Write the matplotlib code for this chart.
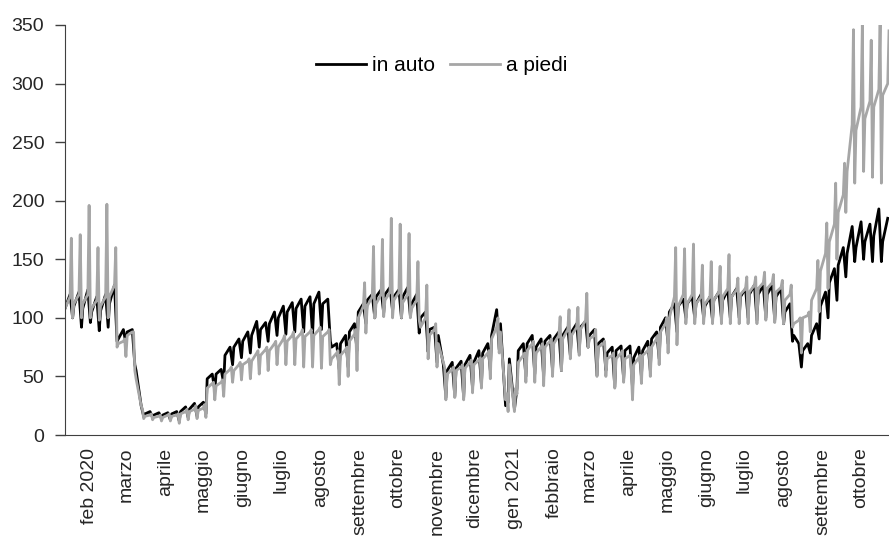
import matplotlib

matplotlib.use("Agg")
import matplotlib.pyplot as plt
import numpy as np
import pandas as pd

plt.rcParams["font.family"] = ["Liberation Sans", "DejaVu Sans"]

# settimane a partire da lunedi 13 gennaio 2020; ultimo giorno disponibile: 23 ottobre 2021
START = pd.Timestamp("2020-01-13")
END = pd.Timestamp("2021-10-23")

# in auto: livello feriale (lun), picco (ven), minimo (dom)
auto_base = [108, 110, 108, 105, 106, 112, 82, 88, 55, 18,
             17, 17, 18, 20, 22, 24, 48, 52, 68, 75,
             80, 85, 90, 95, 100, 105, 108, 110, 112, 112,
             75, 78, 88, 105, 115, 118, 120, 118, 118, 112,
             100, 90, 85, 55, 57, 60, 62, 70, 85, 95,
             65, 72, 78, 75, 80, 82, 85, 88, 92, 85,
             78, 70, 72, 72, 66, 72, 82, 92, 105, 110,
             112, 112, 110, 115, 115, 118, 118, 120, 120, 120,
             118, 105, 85, 72, 85, 110, 130, 145, 155, 160,
             165, 170, 165]
auto_peak = [120, 122, 124, 118, 120, 128, 90, 90, 25, 20,
             19, 19, 20, 24, 27, 28, 52, 56, 75, 82,
             88, 97, 96, 105, 110, 113, 116, 118, 122, 116,
             78, 85, 95, 112, 120, 124, 126, 124, 126, 120,
             105, 92, 60, 62, 63, 68, 72, 78, 107, 25,
             22, 78, 85, 82, 85, 88, 92, 95, 97, 90,
             82, 75, 76, 76, 75, 80, 88, 100, 112, 116,
             118, 120, 118, 122, 124, 125, 125, 128, 128, 128,
             125, 112, 78, 78, 95, 122, 142, 160, 178, 182,
             180, 193, 185]
auto_low = [100, 92, 96, 89, 92, 80, 78, 60, 16, 15,
            14, 13, 12, 15, 16, 18, 38, 44, 60, 66,
            70, 75, 80, 85, 86, 88, 88, 86, 90, 80,
            56, 58, 72, 95, 100, 104, 106, 100, 102, 87,
            71, 62, 32, 33, 32, 40, 43, 55, 73, 28,
            40, 50, 52, 50, 55, 55, 68, 70, 75, 51,
            55, 41, 48, 40, 50, 55, 65, 78, 88, 100,
            100, 100, 98, 100, 100, 100, 100, 98, 100, 98,
            95, 80, 58, 70, 82, 100, 115, 135, 148, 150,
            148, 148, 150]

# a piedi: lunedi, venerdi, picco (sab), minimo (dom)
piedi_base = [108, 112, 112, 108, 110, 118, 78, 85, 48, 16,
              15, 15, 16, 18, 20, 21, 40, 42, 52, 55,
              60, 63, 68, 72, 75, 80, 82, 84, 85, 84,
              65, 68, 80, 100, 110, 112, 115, 115, 113, 108,
              92, 85, 78, 52, 55, 57, 60, 65, 82, 88,
              60, 62, 72, 70, 75, 78, 82, 85, 90, 82,
              75, 65, 65, 65, 60, 68, 75, 88, 100, 110,
              112, 112, 112, 115, 118, 118, 120, 122, 125, 125,
              122, 115, 95, 100, 115, 140, 165, 190, 225, 260,
              270, 280, 290]
piedi_ven = [118, 120, 120, 115, 118, 128, 80, 88, 25, 17,
             16, 17, 17, 20, 22, 23, 44, 45, 56, 60,
             63, 70, 73, 78, 82, 85, 87, 88, 90, 88,
             70, 73, 86, 110, 118, 120, 122, 122, 120, 115,
             100, 90, 62, 56, 58, 62, 64, 70, 92, 30,
             20, 68, 78, 75, 80, 85, 90, 92, 98, 85,
             78, 68, 70, 68, 66, 72, 82, 95, 118, 120,
             120, 118, 118, 122, 125, 124, 125, 128, 130, 130,
             126, 120, 98, 102, 125, 155, 180, 205, 265, 280,
             285, 295, 300]
piedi_peak = [168, 171, 196, 160, 197, 160, 82, 88, 22, 18,
              17, 18, 18, 22, 25, 26, 45, 47, 58, 62,
              65, 72, 75, 80, 85, 88, 90, 90, 92, 90,
              72, 75, 90, 130, 161, 167, 185, 180, 172, 148,
              128, 95, 58, 58, 60, 64, 66, 72, 100, 35,
              40, 70, 80, 78, 82, 101, 107, 109, 121, 90,
              80, 70, 72, 55, 68, 75, 85, 100, 160, 159,
              163, 145, 148, 144, 154, 134, 135, 135, 139, 137,
              132, 128, 100, 105, 149, 181, 215, 232, 346, 350,
              337, 350, 345]
piedi_low = [100, 100, 100, 98, 100, 75, 67, 55, 14, 13,
             12, 12, 10, 13, 14, 15, 30, 33, 45, 47,
             48, 52, 55, 60, 60, 60, 58, 58, 57, 60,
             43, 50, 55, 87, 100, 101, 100, 100, 100, 98,
             65, 58, 30, 32, 30, 36, 40, 48, 70, 20,
             35, 45, 45, 42, 50, 55, 65, 68, 75, 50,
             50, 40, 45, 30, 44, 50, 60, 70, 77, 95,
             95, 95, 95, 95, 95, 95, 95, 95, 98, 96,
             95, 92, 70, 88, 105, 125, 150, 190, 215, 225,
             220, 215, 215]

mesi = ["feb 2020", "marzo", "aprile", "maggio", "giugno", "luglio", "agosto",
        "settembre", "ottobre", "novembre", "dicembre", "gen 2021", "febbraio",
        "marzo", "aprile", "maggio", "giugno", "luglio", "agosto", "settembre",
        "ottobre"]


def weekly_points(cols, offsets):
    days, vals = [], []
    for k in range(len(cols[0])):
        for off, c in zip(offsets, cols):
            days.append(7 * k + off)
            vals.append(c[k])
    s = pd.Series(vals, index=START + pd.to_timedelta(days, unit="D"))
    return s[s.index <= END]


auto = weekly_points([auto_base, auto_peak, auto_low], [0, 4, 6])
piedi = weekly_points([piedi_base, piedi_ven, piedi_peak, piedi_low], [0, 4, 5, 6])

fig = plt.figure(figsize=(8.89, 5.42), dpi=100)
ax = fig.add_axes([0.0731, 0.1974, 0.9269, 0.7565])

ax.plot(auto.index, auto.values, color="black", lw=2.0, label="in auto")
ax.plot(piedi.index, piedi.values, color="#A6A6A6", lw=2.0, label="a piedi")

ax.set_xlim(START, END)
ax.set_ylim(0, 350)
ax.set_yticks(np.arange(0, 351, 50))
ticks = pd.date_range("2020-02-01", periods=len(mesi), freq="MS")
ax.set_xticks(ticks)
ax.set_xticklabels(mesi, rotation=90, ha="center", va="top")

for side in ["top", "right"]:
    ax.spines[side].set_visible(False)
ax.spines["left"].set_color("#404040")
ax.spines["bottom"].set_color("#404040")
ax.tick_params(axis="y", length=7, width=1, color="#404040", pad=8,
               labelsize=14, labelcolor="#262626")
ax.tick_params(axis="x", length=0, pad=9, labelsize=14, labelcolor="#262626")

ax.legend(loc="center", bbox_to_anchor=(0.457, 0.9), ncol=2, frameon=False,
          fontsize=15, handlelength=2.4, columnspacing=0.7, handletextpad=0.3)

fig.savefig("out.png", dpi=100)
